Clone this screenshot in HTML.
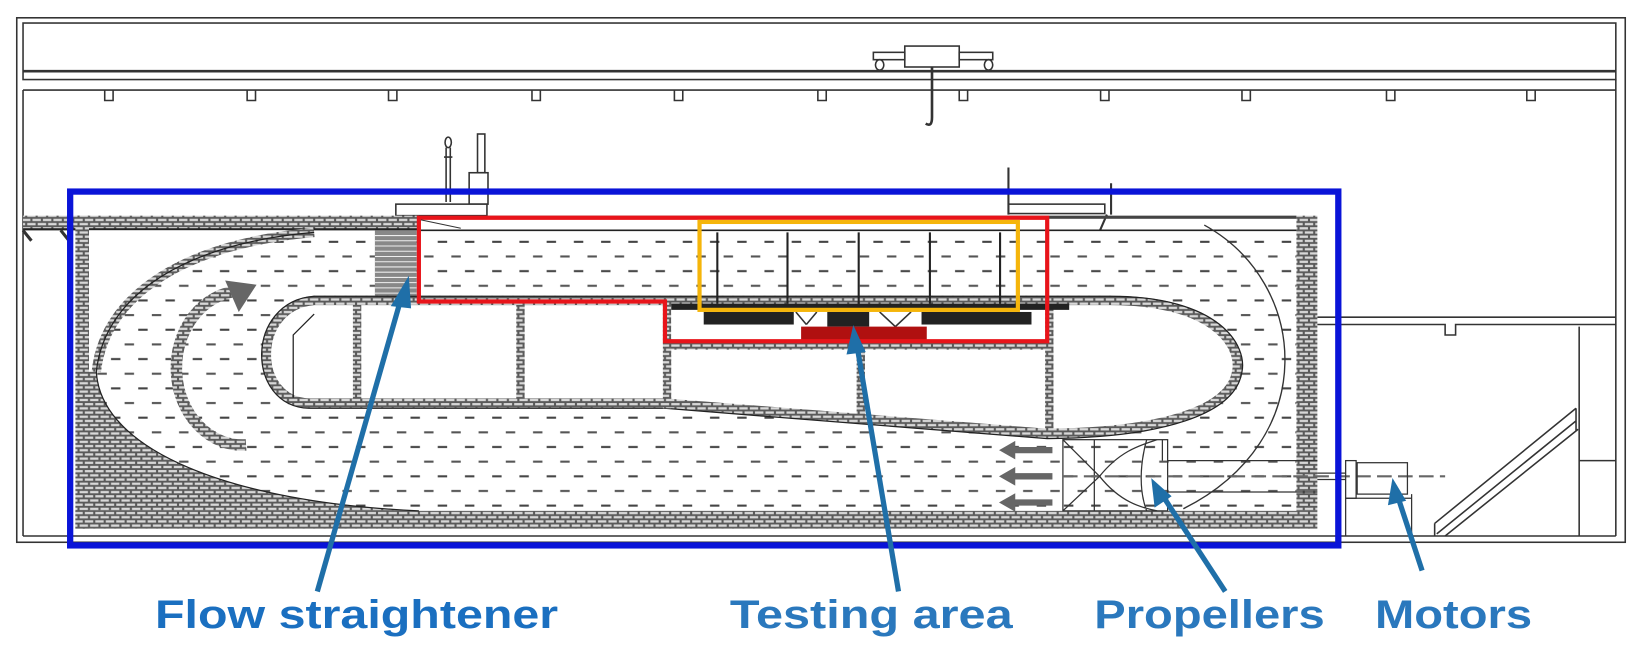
<!DOCTYPE html>
<html><head><meta charset="utf-8"><style>
html,body{margin:0;padding:0;background:#fff;width:1642px;height:648px;overflow:hidden}
svg{display:block}
</style></head><body>
<svg width="1642" height="648" viewBox="0 0 1568 619" preserveAspectRatio="none" xmlns="http://www.w3.org/2000/svg">
<defs>
<pattern id="brick" width="10" height="8" patternUnits="userSpaceOnUse">
<rect width="10" height="8" fill="#5a5a5a"/>
<rect x="1" y="1" width="8" height="2.2" fill="#d8d8d8"/>
<rect x="-4" y="5" width="8" height="2.2" fill="#d8d8d8"/>
<rect x="6" y="5" width="8" height="2.2" fill="#d8d8d8"/>
</pattern>
<pattern id="water" width="26" height="28" patternUnits="userSpaceOnUse">
<rect width="26" height="28" fill="#fff"/>
<rect x="2" y="6" width="9" height="2" fill="#444"/>
<rect x="15" y="20" width="9" height="2" fill="#555"/>
</pattern>
</defs>
<g fill="none" stroke="#333" stroke-width="1.5">
<!-- outer building -->
<rect x="16" y="17" width="1536" height="501"/>
<rect x="22" y="22" width="1521" height="54"/>
<line x1="22" y1="68" x2="1543" y2="68" stroke-width="2.5"/>
<path d="M22,86 L1543,86"/>
<line x1="22" y1="86" x2="22" y2="512"/>
<line x1="22" y1="512" x2="1543" y2="512"/>
<line x1="1543" y1="76" x2="1543" y2="512"/>
<!-- notches -->
<path d="M100,86 v10 h8 v-10 M236,86 v10 h8 v-10 M371,86 v10 h8 v-10 M508,86 v10 h8 v-10 M644,86 v10 h8 v-10 M781,86 v10 h8 v-10 M916,86 v10 h8 v-10 M1051,86 v10 h8 v-10 M1186,86 v10 h8 v-10 M1324,86 v10 h8 v-10 M1458,86 v10 h8 v-10"/>
<!-- crane -->
<rect x="864" y="44" width="52" height="20"/>
<rect x="834" y="50" width="30" height="7"/>
<rect x="916" y="50" width="32" height="7"/>
<ellipse cx="840" cy="62" rx="4" ry="5"/><ellipse cx="944" cy="62" rx="4" ry="5"/>
<path d="M890,64 V112 q0,10 -6,6" stroke-width="2.5"/>
<!-- person & posts -->
<ellipse cx="428" cy="136" rx="3" ry="5"/>
<path d="M426,141 v52 M430,141 v52 M424,150 h8"/>
<rect x="456" y="128" width="7" height="37"/>
<rect x="448" y="165" width="18" height="30"/>
<rect x="378" y="195" width="87" height="11" fill="#fff"/>
<path d="M963,160 V205 M1061,175 V205 M1057,205 L1020,290" stroke-width="2"/>
<rect x="963" y="195" width="92" height="9"/>
<!-- right building -->
<path d="M1258,303 H1543 M1258,310 H1380 v10 h10 v-10 H1543 M1508,312 V512 M1508,440 H1543"/>
<path d="M1370,500 L1505,390 M1372,510 L1505,402 M1380,512 L1507,410 M1370,500 V512 M1505,390 V412"/>
<path d="M1228,310 L1258,310" />
</g>
<!-- tunnel -->
<rect x="85" y="220" width="1153" height="268" fill="url(#water)"/>
<rect x="22" y="206" width="378" height="14" fill="url(#brick)"/>
<rect x="22" y="218" width="378" height="2" fill="#222"/>
<rect x="400" y="206" width="838" height="3" fill="#444"/>
<line x1="400" y1="220" x2="1238" y2="220" stroke="#222" stroke-width="1.5"/>
<rect x="72" y="206" width="13" height="299" fill="url(#brick)"/>
<rect x="72" y="488" width="1186" height="17" fill="url(#brick)"/>
<rect x="1238" y="206" width="20" height="282" fill="url(#brick)"/>
<path d="M22,220 l8,10 M58,220 l8,10" stroke="#333" stroke-width="3"/>
<!-- left corner -->
<path d="M85,220 L300,220 C180,232 100,280 92,355 L85,355 Z" fill="#fff"/>
<path d="M85,355 L92,355 C96,430 220,480 400,488 L85,488 Z" fill="url(#brick)"/>
<path d="M300,222 C180,232 100,280 92,355" fill="none" stroke="url(#brick)" stroke-width="9"/>
<path d="M300,222 C180,232 100,280 92,355 C96,430 220,480 400,488" fill="none" stroke="#222" stroke-width="1.2"/>
<!-- curved arrow -->
<path d="M235,425 A60,70 0 0 1 228,278" fill="none" stroke="url(#brick)" stroke-width="11"/>
<path d="M215,268 L245,272 L228,298 Z" fill="#666"/>
<!-- flow straightener -->
<rect x="358" y="220" width="40" height="68" fill="#888"/>
<g stroke="#eee" stroke-width="1">
<path d="M358,225h40M358,230h40M358,235h40M358,240h40M358,245h40M358,250h40M358,255h40M358,260h40M358,265h40M358,270h40M358,275h40M358,280h40"/>
</g>
<!-- island -->
<path d="M300,287 L1060,287 C1160,287 1186,330 1181,355 C1175,392 1110,413 1000,414 L635,385 L295,385 C240,383 240,292 300,287 Z" fill="#fff" stroke="url(#brick)" stroke-width="9"/>
<path d="M300,283 L1060,283 C1165,283 1191,330 1186,355 C1180,396 1110,418 1000,419 L635,390 L295,390 C234,388 234,288 300,283 Z" fill="none" stroke="#222" stroke-width="1.2"/>
<path d="M280,380 V320 L300,300" fill="none" stroke="#222" stroke-width="1.2"/>
<g fill="url(#brick)">
<rect x="337" y="290" width="8" height="95"/>
<rect x="493" y="290" width="8" height="95"/>
<rect x="633" y="290" width="8" height="100"/>
<rect x="818" y="326" width="8" height="76"/>
<rect x="998" y="290" width="8" height="124"/>
<rect x="635" y="326" width="370" height="8"/>
</g>
<!-- test pit -->
<rect x="641" y="292" width="357" height="34" fill="#fff"/>
<rect x="641" y="290" width="380" height="6" fill="#222"/>
<rect x="672" y="298" width="86" height="12" fill="#222"/>
<rect x="790" y="298" width="40" height="14" fill="#222"/>
<rect x="880" y="298" width="105" height="12" fill="#222"/>
<path d="M760,298 l10,12 M780,298 l-10,12 M840,298 l15,14 M870,298 l-15,14" stroke="#333" stroke-width="1.5"/>
<rect x="765" y="312" width="120" height="14" fill="#b01010"/>
<!-- test cells -->
<g stroke="#222" stroke-width="2">
<path d="M685,222V290 M752,222V290 M820,222V290 M888,222V290 M955,222V290"/>
</g>
<!-- deflector / right curve -->
<path d="M1150,215 C1250,270 1262,420 1130,486" fill="none" stroke="#333" stroke-width="1.3"/>
<!-- propeller section -->
<g fill="none" stroke="#333" stroke-width="1.2">
<rect x="1015" y="420" width="100" height="68"/>
<path d="M1015,420 L1050,455 L1015,488 M1045,420 V488 M1050,455 C1070,430 1090,425 1105,420 M1050,455 C1070,480 1090,485 1105,488 M1095,420 C1088,445 1088,470 1095,488"/>
<path d="M1115,440 H1258 M1115,470 H1258 M1110,420 V440"/>
<path d="M1015,455 H1380" stroke-dasharray="14,6" stroke="#666" stroke-width="2"/>
<path d="M1258,452 H1285 M1258,458 H1285"/>
<rect x="1285" y="440" width="10" height="36"/>
<rect x="1296" y="442" width="48" height="30"/>
<path d="M1285,476 V512 M1348,472 V512 M1285,476 H1348"/>
</g>
<g fill="#666" stroke="#666">
<path d="M1005,430 H968 M1005,455 H968 M1005,480 H968" stroke-width="6"/>
<path d="M955,430 l14,-8 v16 Z M955,455 l14,-8 v16 Z M955,480 l14,-8 v16 Z"/>
</g>
<!-- highlight boxes -->
<path d="M400,208 H1000 V326 H635 V288 H400 Z" fill="none" stroke="#e8141a" stroke-width="4"/>
<path d="M402,210 L440,218" stroke="#333" stroke-width="1"/>
<rect x="668" y="212" width="304" height="84" fill="none" stroke="#f5b50a" stroke-width="4"/>
<rect x="67" y="183" width="1211" height="338" fill="none" stroke="#0a14d8" stroke-width="6"/>
<!-- pointer arrows -->
<g stroke="#1f6fa8" stroke-width="5" fill="#1f6fa8">
<line x1="303" y1="565" x2="383" y2="285"/>
<path d="M390,265 L374,292 L392,294 Z" stroke-width="1"/>
<line x1="858" y1="565" x2="818" y2="328"/>
<path d="M815,312 L809,338 L826,336 Z" stroke-width="1"/>
<line x1="1170" y1="565" x2="1108" y2="470"/>
<path d="M1100,458 L1103,484 L1118,474 Z" stroke-width="1"/>
<line x1="1358" y1="545" x2="1334" y2="472"/>
<path d="M1330,458 L1326,482 L1342,478 Z" stroke-width="1"/>
</g>
<!-- labels -->
<g font-family="Liberation Sans, sans-serif" font-weight="bold" font-size="38" fill="#2a78bd">
<text x="148" y="600" textLength="385" lengthAdjust="spacingAndGlyphs" fill="#1a6fc0">Flow straightener</text>
<text x="697" y="600" textLength="270" lengthAdjust="spacingAndGlyphs">Testing area</text>
<text x="1045" y="600" textLength="220" lengthAdjust="spacingAndGlyphs">Propellers</text>
<text x="1313" y="600" textLength="150" lengthAdjust="spacingAndGlyphs">Motors</text>
</g>
</svg>
</body></html>
